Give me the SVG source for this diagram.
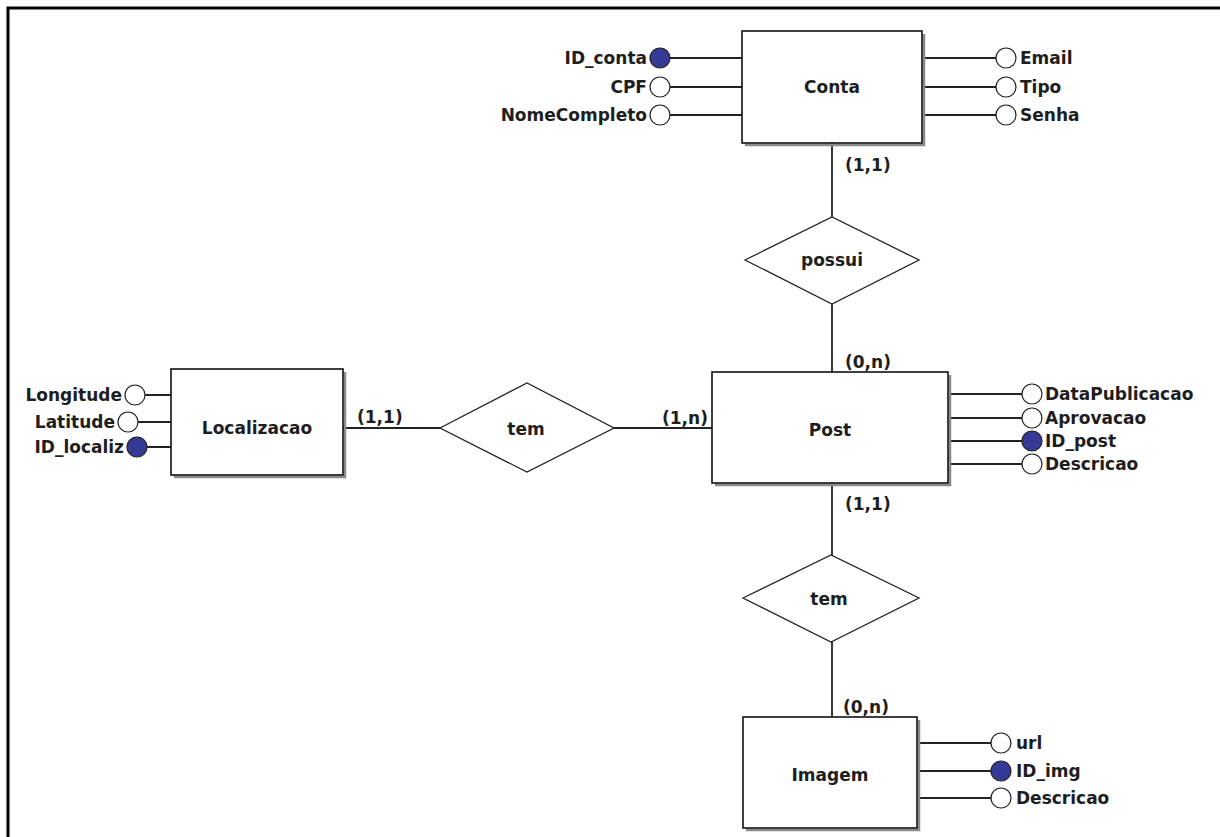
<svg xmlns="http://www.w3.org/2000/svg" width="1220" height="837" viewBox="0 0 1220 837">
<style>
text{font-family:"DejaVu Sans","Verdana",sans-serif;font-weight:bold;font-size:17px;fill:#1e1e1e}
.c{text-anchor:middle}
.e{text-anchor:end}
.ent{fill:#fff;stroke:#111;stroke-width:1.6}
.sh{fill:none;stroke:#8a8a8a;stroke-width:2.5}
.rel{fill:#fff;stroke:#222;stroke-width:1.3}
.ln{stroke:#222;stroke-width:1.8;fill:none}
.att{fill:#fff;stroke:#222;stroke-width:1.2}
.key{fill:#353a96;stroke:#222;stroke-width:1.2}
</style>
<rect width="1220" height="837" fill="#fff"/>
<path d="M8,837 V8 H1220" fill="none" stroke="#000" stroke-width="3"/>

<g id="connectors">
<path class="ln" d="M832,143 V217"/>
<path class="ln" d="M832,304 V372"/>
<path class="ln" d="M343,428 H440"/>
<path class="ln" d="M614,428 H712"/>
<path class="ln" d="M832,483 V555"/>
<path class="ln" d="M832,642 V717"/>
<path class="ln" d="M670,58 H742 M670,87 H742 M670,115 H742"/>
<path class="ln" d="M924,58 H996 M924,87 H996 M924,115 H996"/>
<path class="ln" d="M950,394 H1022 M950,418 H1022 M950,441 H1022 M950,464 H1022"/>
<path class="ln" d="M145,395 H171 M138,422 H171 M147,447 H171"/>
<path class="ln" d="M919,743 H991 M919,771 H991 M919,798 H991"/>
<text x="845" y="171">(1,1)</text>
<text x="845" y="368">(0,n)</text>
<text x="357" y="423">(1,1)</text>
<text x="662" y="424">(1,n)</text>
<text x="845" y="510">(1,1)</text>
<text x="843" y="713">(0,n)</text>
</g>

<g id="conta">
<path class="sh" d="M924,34 V145 H745"/>
<rect class="ent" x="742" y="31" width="180" height="112"/>
<text class="c" x="832" y="93">Conta</text>
</g>
<g id="attr-id-conta"><circle class="key" cx="660" cy="58" r="10"/><text class="e" x="647" y="64">ID_conta</text></g>
<g id="attr-cpf"><circle class="att" cx="660" cy="87" r="10"/><text class="e" x="647" y="93">CPF</text></g>
<g id="attr-nomecompleto"><circle class="att" cx="660" cy="115" r="10"/><text class="e" x="647" y="121">NomeCompleto</text></g>
<g id="attr-email"><circle class="att" cx="1006" cy="58" r="10"/><text x="1020" y="64">Email</text></g>
<g id="attr-tipo"><circle class="att" cx="1006" cy="87" r="10"/><text x="1020" y="93">Tipo</text></g>
<g id="attr-senha"><circle class="att" cx="1006" cy="115" r="10"/><text x="1020" y="121">Senha</text></g>

<g id="possui">
<polygon class="rel" points="745,260 832,217 919,260 832,304"/>
<text class="c" x="832" y="266">possui</text>
</g>

<g id="post">
<path class="sh" d="M950,375 V485 H715"/>
<rect class="ent" x="712" y="372" width="236" height="111"/>
<text class="c" x="830" y="436">Post</text>
</g>
<g id="attr-datapublicacao"><circle class="att" cx="1032" cy="394" r="10"/><text x="1045" y="400">DataPublicacao</text></g>
<g id="attr-aprovacao"><circle class="att" cx="1032" cy="418" r="10"/><text x="1045" y="424">Aprovacao</text></g>
<g id="attr-id-post"><circle class="key" cx="1032" cy="441" r="10"/><text x="1045" y="447">ID_post</text></g>
<g id="attr-descricao-post"><circle class="att" cx="1032" cy="464" r="10"/><text x="1045" y="470">Descricao</text></g>

<g id="localizacao">
<path class="sh" d="M345,372 V477 H174"/>
<rect class="ent" x="171" y="369" width="172" height="106"/>
<text class="c" x="257" y="434">Localizacao</text>
</g>
<g id="attr-longitude"><circle class="att" cx="135" cy="395" r="10"/><text class="e" x="122" y="401">Longitude</text></g>
<g id="attr-latitude"><circle class="att" cx="128" cy="422" r="10"/><text class="e" x="115" y="428">Latitude</text></g>
<g id="attr-id-localiz"><circle class="key" cx="137" cy="447" r="10"/><text class="e" x="124" y="453">ID_localiz</text></g>

<g id="tem-localizacao">
<polygon class="rel" points="440,428 527,383 614,428 527,472"/>
<text class="c" x="526" y="435">tem</text>
</g>

<g id="tem-imagem">
<polygon class="rel" points="743,598 831,555 919,598 831,642"/>
<text class="c" x="829" y="605">tem</text>
</g>

<g id="imagem">
<path class="sh" d="M919,720 V830 H746"/>
<rect class="ent" x="743" y="717" width="174" height="111"/>
<text class="c" x="830" y="781">Imagem</text>
</g>
<g id="attr-url"><circle class="att" cx="1001" cy="743" r="10"/><text x="1016" y="749">url</text></g>
<g id="attr-id-img"><circle class="key" cx="1001" cy="771" r="10"/><text x="1016" y="777">ID_img</text></g>
<g id="attr-descricao-img"><circle class="att" cx="1001" cy="798" r="10"/><text x="1016" y="804">Descricao</text></g>
</svg>
